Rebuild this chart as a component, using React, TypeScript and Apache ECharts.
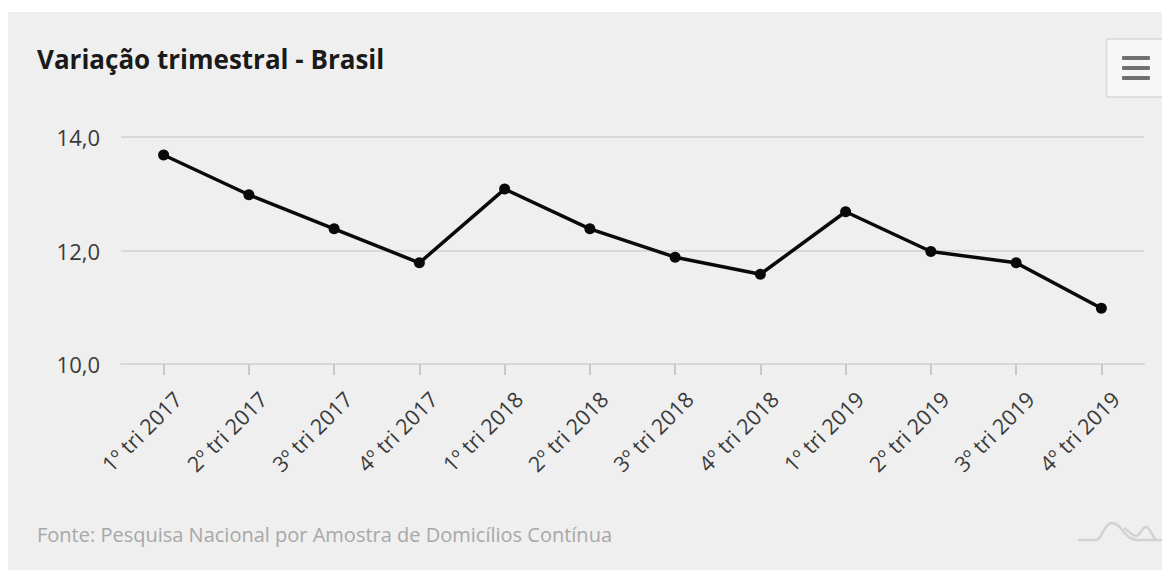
import React, { useEffect, useRef } from "react";
import * as echarts from "echarts";

const categories = ["1º tri 2017","2º tri 2017","3º tri 2017","4º tri 2017","1º tri 2018","2º tri 2018","3º tri 2018","4º tri 2018","1º tri 2019","2º tri 2019","3º tri 2019","4º tri 2019"];
const values = [13.7,13.0,12.4,11.8,13.1,12.4,11.9,11.6,12.7,12.0,11.8,11.0];
const titleText = "Variação trimestral - Brasil";
const sourceText = "Fonte: Pesquisa Nacional por Amostra de Domicílios Contínua";
const FONT = "'Open Sans', sans-serif";

echarts.graphic.registerShape("brandmark", echarts.graphic.extendPath("M0 18 H18 C24 18 26 1 34 1 C44 1 46 18 60 18 H84 M46 6 C50 8 54 14 58 14 C62 14 64 5 68 5 C72 5 74 14 78 18", {}));

export default function App() {
  const ref = useRef<HTMLDivElement>(null);
  useEffect(() => {
    document.body.style.margin = "0";
    document.body.style.background = "#ffffff";
    const chart = echarts.init(ref.current!, undefined, { renderer: "svg" });
    chart.setOption({
      animation: false,
      backgroundColor: "transparent",
      grid: [
        { left: 121, right: 18, top: 137, height: 227 },
        { left: 121, right: 18, top: 138, height: 227 },
      ],
      title: {
        text: titleText, left: 32, top: 41,
        textStyle: { fontFamily: FONT, fontSize: 26, fontWeight: "bold", color: "#1a1a1a" },
      },
      xAxis: [
        {
          type: "category",
          data: categories,
          gridIndex: 0,
          axisLine: { show: true, lineStyle: { color: "#d8d8d8", width: 2 } },
          axisTick: { show: true, alignWithLabel: true, length: 11, lineStyle: { color: "#c8c8c8", width: 2 } },
          axisLabel: { rotate: 45, interval: 0, margin: 17, align: "right", verticalAlign: "top", lineHeight: 40, fontFamily: FONT, fontSize: 21.5, color: "#3a3a3a" },
        },
        { type: "category", data: categories, gridIndex: 1, show: false },
      ],
      yAxis: [
        {
          type: "value", min: 10, max: 14, interval: 2, gridIndex: 0,
          axisLine: { show: false }, axisTick: { show: false },
          splitLine: { lineStyle: { color: "#d8d8d8", width: 2 } },
          axisLabel: {
            margin: 21, fontFamily: FONT, fontSize: 22, color: "#3a3a3a",
            formatter: (v: number) => v.toFixed(1).replace(".", ","),
          },
        },
        { type: "value", min: 10, max: 14, interval: 2, gridIndex: 1, show: false },
      ],
      series: [{
        type: "line", data: values, xAxisIndex: 1, yAxisIndex: 1, symbol: "circle", symbolSize: 11,
        itemStyle: { color: "#0a0a0a" }, lineStyle: { color: "#0a0a0a", width: 3.5 },
      }],
      graphic: [
        { type: "text", x: 37, y: 524, style: { text: sourceText, fontFamily: FONT, fontSize: 20, fill: "#a8a8a8" } },
        { type: "rect", shape: { x: 1106.5, y: 39, width: 60, height: 58 }, style: { fill: "#f7f7f7", stroke: "#d8d8d8", lineWidth: 1.5 } },
        { type: "rect", shape: { x: 1122, y: 56, width: 28, height: 4, r: 1 }, style: { fill: "#707070" } },
        { type: "rect", shape: { x: 1122, y: 66, width: 28, height: 4, r: 1 }, style: { fill: "#707070" } },
        { type: "rect", shape: { x: 1122, y: 76, width: 28, height: 4, r: 1 }, style: { fill: "#707070" } },
        { type: "brandmark", x: 1078, y: 522, style: { fill: "none", stroke: "#d2d2d2", lineWidth: 2.5 } },
      ],
    });
    return () => chart.dispose();
  }, []);
  return (
    <div style={{ position: "relative", width: 1162, height: 570, overflow: "hidden", background: "#fff" }}>
      <div style={{ position: "absolute", left: 8, top: 12, width: 1154, height: 558, background: "#efefef" }} />
      <div ref={ref} style={{ position: "absolute", left: 0, top: 0, width: 1162, height: 570 }} />
    </div>
  );
}
